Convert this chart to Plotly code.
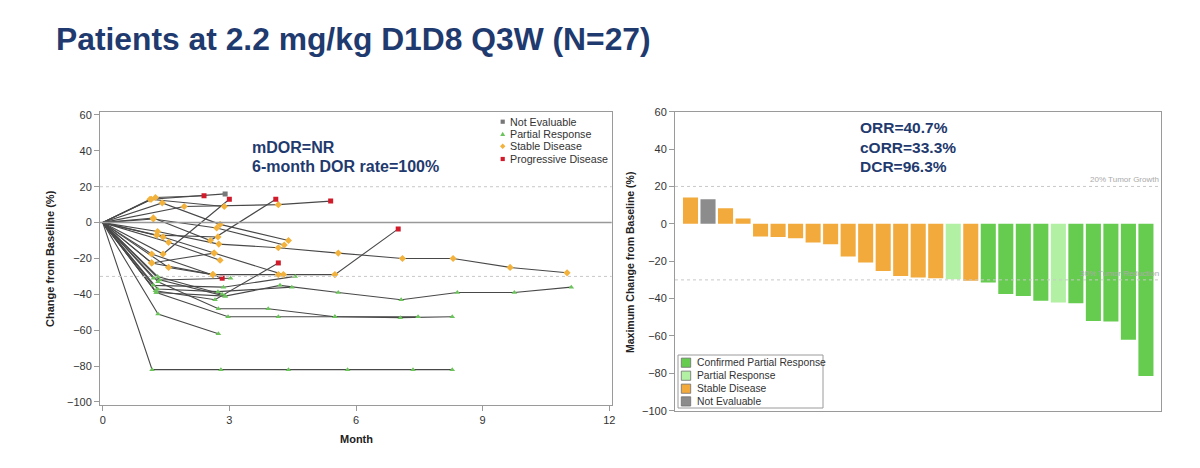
import plotly.graph_objects as go

# ---------------- Spider plot data (left) ----------------
patient_months = [
    [0, 1.15, 2.9],
    [0, 1.25, 2.4],
    [0, 1.93, 4.16, 5.4],
    [0, 1.41, 2.78, 4.4],
    [0, 1.2, 2.55, 4.1],
    [0, 1.43, 3.0],
    [0, 1.3, 2.75, 4.16, 5.58, 7.1, 8.3, 9.65, 11.0],
    [0, 1.2, 2.7, 4.3],
    [0, 1.43, 2.64, 4.28, 5.5, 7.0],
    [0, 1.56, 2.78],
    [0, 1.16, 2.61, 4.16],
    [0, 1.16, 2.83],
    [0, 1.12, 2.88],
    [0, 1.56, 2.61],
    [0, 1.28, 2.73],
    [0, 1.17, 2.8, 4.4, 5.8, 7.35, 8.28],
    [0, 1.31, 2.74],
    [0, 1.27, 2.97, 4.16, 5.5, 7.05, 8.28],
    [0, 1.31, 2.74, 3.92, 5.5, 7.47],
    [0, 1.2, 2.9, 4.2, 5.58, 7.07, 8.4, 9.75, 11.1],
    [0, 1.25, 2.66, 4.16],
    [0, 1.2, 2.86, 4.56],
    [0, 1.3, 2.73, 4.48],
    [0, 1.35, 3.03],
    [0, 1.27, 2.9],
    [0, 1.3, 2.83],
    [0, 1.16, 2.64],
]
patient_changes = [
    [0, 13, 16],
    [0, 14, 15],
    [0, 9, 10, 12],
    [0, 11, -1, -10],
    [0, 2.6, -10, 13],
    [0, -17.5, 13],
    [0, -5, -12, -14, -17, -20, -20, -25, -28],
    [0, 2, -3, -12.5],
    [0, -8, -17, -29, -29, -3.5],
    [0, -11, -21],
    [0, -22.5, -29, -29],
    [0, -17.5, -31],
    [0, 13, 9],
    [0, -25, -29],
    [0, -7, -8],
    [0, -82, -82, -82, -82, -82, -82],
    [0, -51, -62],
    [0, -39, -52.5, -52.5, -52.5, -53, -52.5],
    [0, -33, -48, -48, -52.5, -52.5],
    [0, -31, -41, -35, -39, -43, -39, -39, -36],
    [0, -38, -43, -22.5],
    [0, -35, -36, -30],
    [0, -37, -38.5, -36],
    [0, -32, -31],
    [0, -39, -41],
    [0, -30, -40],
    [0, -22.5, -17],
]
patient_status = [
    ["", "SD", "NE"],
    ["", "SD", "PD"],
    ["", "SD", "SD", "PD"],
    ["", "SD", "SD", "SD"],
    ["", "SD", "SD", "PD"],
    ["", "SD", "PD"],
    ["", "SD", "SD", "SD", "SD", "SD", "SD", "SD", "SD"],
    ["", "SD", "SD", "SD"],
    ["", "SD", "SD", "SD", "SD", "PD"],
    ["", "SD", "SD"],
    ["", "SD", "SD", "SD"],
    ["", "SD", "PD"],
    ["", "SD", "SD"],
    ["", "SD", "SD"],
    ["", "SD", "SD"],
    ["", "PR", "PR", "PR", "PR", "PR", "PR"],
    ["", "PR", "PR"],
    ["", "PR", "PR", "PR", "PR", "PR", "PR"],
    ["", "PR", "PR", "PR", "PR", "PR"],
    ["", "PR", "PR", "PR", "PR", "PR", "PR", "PR", "PR"],
    ["", "PR", "PR", "PD"],
    ["", "PR", "PR", "PR"],
    ["", "PR", "PR", "PR"],
    ["", "PR", "PR"],
    ["", "PR", "PR"],
    ["", "PR", "PR"],
    ["", "SD", "SD"],
]
spider_codes = ["NE", "PR", "SD", "PD"]
spider_names = ["Not Evaluable", "Partial Response", "Stable Disease", "Progressive Disease"]

# ---------------- Waterfall data (right) ----------------
bar_values = [14.1, 13.2, 8.4, 2.9, -6.8, -7.1, -7.7, -10.0, -10.9, -17.5, -20.7,
              -25.2, -27.9, -28.7, -29.1, -29.6, -30.5, -31.4, -37.5, -38.6, -41.1,
              -42.1, -42.5, -52.0, -52.3, -62.1, -81.4]
bar_response = ["SD", "NE", "SD", "SD", "SD", "SD", "SD", "SD", "SD", "SD", "SD",
                "SD", "SD", "SD", "SD", "PR", "SD", "CPR", "CPR", "CPR", "CPR",
                "PR", "CPR", "CPR", "CPR", "CPR", "CPR"]
bar_codes = ["CPR", "PR", "SD", "NE"]
bar_names = ["Confirmed Partial Response", "Partial Response", "Stable Disease", "Not Evaluable"]

# ---------------- styles / page geometry ----------------
W, H, OFF = 1200, 468, 8


def fx(px):
    return (px - OFF) / W


def fy(py):
    return 1 - (py - OFF) / H


NAVY = "#1F3A6E"
FONT = "Liberation Sans, Arial, sans-serif"
spider_style = {
    "NE": dict(color="#777777", symbol="square", size=5),
    "PR": dict(color="#6CC35C", symbol="triangle-up", size=5),
    "SD": dict(color="#F2B23C", symbol="diamond", size=5.5),
    "PD": dict(color="#D11A2A", symbol="square", size=5),
}
bar_colors = {"CPR": "#66CC4F", "PR": "#B2F0A4", "SD": "#F2AA3C", "NE": "#8C8C8C"}

fig = go.Figure()

# patient lines
for mo, ch in zip(patient_months, patient_changes):
    fig.add_trace(go.Scatter(x=mo, y=ch, mode="lines", xaxis="x", yaxis="y",
                             line=dict(color="#484848", width=1.1),
                             showlegend=False, hoverinfo="skip"))

# markers per status
for code, name in zip(spider_codes, spider_names):
    xs, ys = [], []
    for mo, ch, st in zip(patient_months, patient_changes, patient_status):
        for m, c, s in zip(mo, ch, st):
            if s == code:
                xs.append(m)
                ys.append(c)
    sty = spider_style[code]
    fig.add_trace(go.Scatter(x=xs, y=ys, mode="markers", name=name, xaxis="x", yaxis="y",
                             marker=dict(color=sty["color"], symbol=sty["symbol"],
                                         size=sty["size"], line=dict(width=0)),
                             showlegend=False))

# waterfall bars
positions = list(range(1, len(bar_values) + 1))
for code, name in zip(bar_codes, bar_names):
    xs = [p for p, r in zip(positions, bar_response) if r == code]
    ys = [v for v, r in zip(bar_values, bar_response) if r == code]
    fig.add_trace(go.Bar(x=xs, y=ys, name=name, xaxis="x2", yaxis="y2",
                         width=0.86, marker=dict(color=bar_colors[code], line=dict(width=0)),
                         showlegend=False))

axis_common = dict(showgrid=False, zeroline=False, showline=True, linecolor="#9A9A9A",
                   linewidth=1, mirror=True, ticks="outside", ticklen=5, tickcolor="#9A9A9A",
                   automargin=False,
                   tickfont=dict(size=11, color="#333333", family=FONT))

fig.update_layout(
    width=W, height=H,
    margin=dict(l=0, r=0, t=0, b=0, pad=0),
    paper_bgcolor="white", plot_bgcolor="white",
    font=dict(family=FONT, color="#333333"),
    barmode="overlay",
    showlegend=False,
    xaxis=dict(domain=[fx(100), fx(611.7)], range=[-0.064, 12.057], tickvals=[0, 3, 6, 9, 12],
               anchor="y", **axis_common),
    yaxis=dict(domain=[fy(405), fy(112.3)], range=[-101.7, 61.5],
               tickvals=list(range(-100, 61, 20)), anchor="x", **axis_common),
    xaxis2=dict(domain=[fx(675), fx(1161)], range=[0.115, 27.86], anchor="y2",
                showgrid=False, zeroline=False, showline=True, linecolor="#9A9A9A",
                mirror=True, ticks="", showticklabels=False, automargin=False),
    yaxis2=dict(domain=[fy(410.7), fy(111.7)], range=[-100, 60],
                tickvals=list(range(-100, 61, 20)), anchor="x2", **axis_common),
)

dot = dict(color="#C8C8C8", width=1, dash="dot")
shapes = [
    dict(type="line", xref="x domain", yref="y", x0=0, x1=1, y0=20, y1=20, line=dot),
    dict(type="line", xref="x domain", yref="y", x0=0, x1=1, y0=-30, y1=-30, line=dot),
    dict(type="line", xref="x domain", yref="y", x0=0, x1=1, y0=0, y1=0,
         line=dict(color="#999999", width=1.5)),
    dict(type="line", xref="x2 domain", yref="y2", x0=0, x1=1, y0=20, y1=20, line=dot),
    dict(type="line", xref="x2 domain", yref="y2", x0=0, x1=1, y0=-30, y1=-30, line=dot),
]

ann = []


def text(t, x, y, size, color="#333333", xanchor="left", yanchor="middle", angle=0):
    ann.append(dict(text=t, xref="paper", yref="paper", x=fx(x), y=fy(y),
                    xanchor=xanchor, yanchor=yanchor, showarrow=False, textangle=angle,
                    font=dict(size=size, color=color, family=FONT)))


# title and stat annotations
text("<b>Patients at 2.2 mg/kg D1D8 Q3W (N=27)</b>", 54, 39, 31.8, NAVY)
text("<b>mDOR=NR</b>", 250, 147, 16, NAVY)
text("<b>6-month DOR rate=100%</b>", 250, 166, 16, NAVY)
text("<b>ORR=40.7%</b>", 858, 127, 15.5, NAVY)
text("<b>cORR=33.3%</b>", 858, 147, 15.5, NAVY)
text("<b>DCR=96.3%</b>", 858, 166, 15.5, NAVY)

# axis titles
text("<b>Change from Baseline (%)</b>", 50, 259, 11, "#222222", "center", "middle", -90)
text("<b>Month</b>", 356, 439, 11, "#222222", "center", "middle")
text("<b>Maximum Change from Baseline (%)</b>", 630, 263, 10.5, "#222222", "center", "middle", -90)

# reference line labels
ann.append(dict(text="20% Tumor Growth", xref="x2 domain", yref="y2", x=1, y=20,
                xanchor="right", yanchor="bottom", showarrow=False,
                font=dict(size=8, color="#AAAAAA", family=FONT)))
ann.append(dict(text="30% Tumor Reduction", xref="x2 domain", yref="y2", x=1, y=-30,
                xanchor="right", yanchor="bottom", showarrow=False,
                font=dict(size=8, color="#AAAAAA", family=FONT)))

# ---- left legend (marker key) ----
leg_rows = [121.7, 133.9, 146.3, 159.0]
for code, name, ry in zip(spider_codes, spider_names, leg_rows):
    col = spider_style[code]["color"]
    cx, s = 502.7, 4.2
    if code in ("NE", "PD"):
        shapes.append(dict(type="rect", xref="paper", yref="paper",
                           x0=fx(cx - s / 2), x1=fx(cx + s / 2), y0=fy(ry + s / 2), y1=fy(ry - s / 2),
                           fillcolor=col, line=dict(width=0)))
    elif code == "PR":
        p = "M {} {} L {} {} L {} {} Z".format(fx(cx - s / 2 - 0.4), fy(ry + s / 2), fx(cx + s / 2 + 0.4),
                                               fy(ry + s / 2), fx(cx), fy(ry - s / 2))
        shapes.append(dict(type="path", xref="paper", yref="paper", path=p,
                           fillcolor=col, line=dict(width=0)))
    else:
        p = "M {} {} L {} {} L {} {} L {} {} Z".format(fx(cx), fy(ry - s / 2 - 0.6), fx(cx + s / 2 + 0.6), fy(ry),
                                                      fx(cx), fy(ry + s / 2 + 0.6), fx(cx - s / 2 - 0.6), fy(ry))
        shapes.append(dict(type="path", xref="paper", yref="paper", path=p,
                           fillcolor=col, line=dict(width=0)))
    text(name, 508, ry, 10.7)

# ---- right legend (bar key) ----
shapes.append(dict(type="rect", xref="paper", yref="paper", x0=fx(678), x1=fx(823),
                   y0=fy(408), y1=fy(355), fillcolor="white", line=dict(color="#9A9A9A", width=1)))
leg2_rows = [362.7, 375.7, 388.7, 401.4]
for code, name, ry in zip(bar_codes, bar_names, leg2_rows):
    shapes.append(dict(type="rect", xref="paper", yref="paper", x0=fx(681.3), x1=fx(690.7),
                       y0=fy(ry + 4.6), y1=fy(ry - 4.6), fillcolor=bar_colors[code],
                       line=dict(color="#707070", width=0.8)))
    text(name, 694.5, ry, 10.3)

fig.update_layout(shapes=shapes, annotations=ann)

fig.write_html("out.html")
